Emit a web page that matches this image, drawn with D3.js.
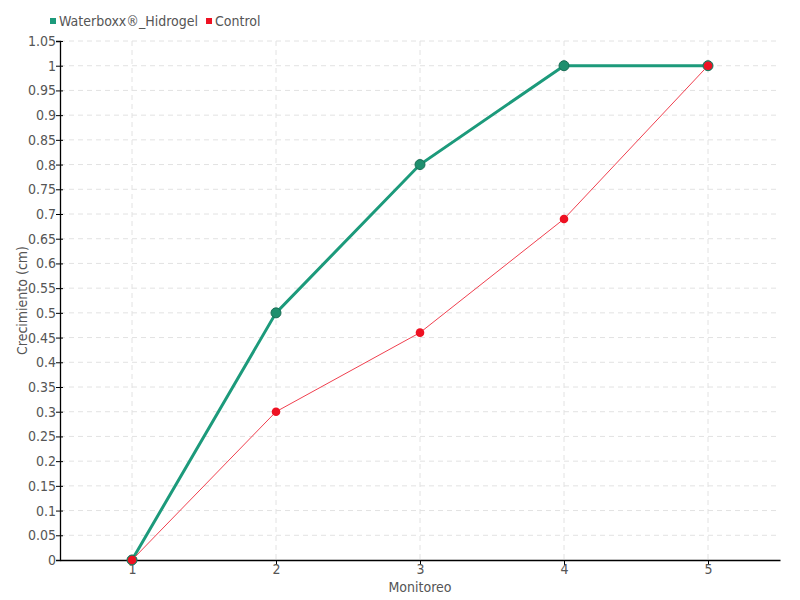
<!DOCTYPE html>
<html><head><meta charset="utf-8">
<script src="https://cdn.jsdelivr.net/npm/d3@7"></script>
<style>
body{margin:0;background:#fff;}
text{font-family:"DejaVu Sans Condensed","Roboto",sans-serif;}
</style></head>
<body><svg id="c" width="800" height="600"></svg>
<script>
const monitoreo = [1, 2, 3, 4, 5];
const waterboxx = [0, 0.5, 0.8, 1, 1];
const control = [0, 0.3, 0.46, 0.69, 1];
const yTicks = [0,0.05,0.1,0.15,0.2,0.25,0.3,0.35,0.4,0.45,0.5,0.55,0.6,0.65,0.7,0.75,0.8,0.85,0.9,0.95,1,1.05];
const seriesNames = ["Waterboxx®_Hidrogel", "Control"];

const svg = d3.select("#c");
const L = 60, R = 780, T = 41, B = 560;
const FS = 14;
const x = d3.scaleLinear().domain([0.5, 5.5]).range([L, R]);
const y = d3.scaleLinear().domain([0, 1.05]).range([B, T]);

// grid
svg.append("g").selectAll("line").data(yTicks.filter(d=>d>0)).join("line")
  .attr("x1", L).attr("x2", R).attr("y1", d=>y(d)).attr("y2", d=>y(d))
  .attr("stroke", "#e2e2e2").attr("stroke-dasharray", "5,4");
svg.append("g").selectAll("line").data(monitoreo).join("line")
  .attr("x1", d=>x(d)).attr("x2", d=>x(d)).attr("y1", T).attr("y2", B)
  .attr("stroke", "#e2e2e2").attr("stroke-dasharray", "5,4");

// axes
const ya = svg.append("g").attr("transform", `translate(${L},0)`)
  .call(d3.axisLeft(y).tickValues(yTicks).tickSize(4).tickFormat(d => String(+d.toFixed(2))));
ya.select(".domain").attr("stroke", "#000").attr("stroke-width", 1.3);
ya.selectAll(".tick line").attr("stroke", "#000").attr("x2", -4).attr("x1", 3);
ya.selectAll("text").attr("fill", "#555").attr("font-size", FS).attr("x", -4)
  .style("font-family", '"DejaVu Sans Condensed",sans-serif');

const xa = svg.append("g").attr("transform", `translate(0,${B})`)
  .call(d3.axisBottom(x).tickValues(monitoreo).tickSize(5).tickFormat(d3.format("d")).tickSizeOuter(0));
xa.select(".domain").attr("stroke", "#000").attr("stroke-width", 1.3);
xa.selectAll(".tick line").attr("stroke", "#000");
xa.selectAll("text").attr("fill", "#555").attr("font-size", FS).attr("y", 6).attr("dy", "0.6em")
  .style("font-family", '"DejaVu Sans Condensed",sans-serif');

// axis titles
svg.append("text").attr("x", (L+R)/2).attr("y", 592).attr("text-anchor", "middle")
  .attr("fill", "#555").attr("font-size", FS).text("Monitoreo");
svg.append("text").attr("transform", `translate(27,${(T+B)/2}) rotate(-90)`)
  .attr("text-anchor", "middle").attr("fill", "#555").attr("font-size", FS).text("Crecimiento (cm)");

const line = d3.line().x((d,i)=>x(monitoreo[i])).y(d=>y(d));

// green series
svg.append("path").datum(waterboxx).attr("d", line).attr("fill","none")
  .attr("stroke", "#1c9a7b").attr("stroke-width", 3);
svg.append("g").selectAll("circle").data(waterboxx).join("circle")
  .attr("cx",(d,i)=>x(monitoreo[i])).attr("cy", d=>y(d)).attr("r", 5)
  .attr("fill", "#1f8f6e").attr("stroke", "#1a6e55").attr("stroke-width", 1);

// red series
svg.append("path").datum(control).attr("d", line).attr("fill","none")
  .attr("stroke", "#f0404f").attr("stroke-width", 1);
svg.append("g").selectAll("circle").data(control).join("circle")
  .attr("cx",(d,i)=>x(monitoreo[i])).attr("cy", d=>y(d)).attr("r", 4.3)
  .attr("fill", "#ee1122");

// legend
const colors = ["#1c9a7b", "#ee1122"];
let lx = 50;
seriesNames.forEach((n,i)=>{
  svg.append("rect").attr("x", lx).attr("y", 18).attr("width", 6).attr("height", 6).attr("fill", colors[i]);
  const t = svg.append("text").attr("x", lx+9).attr("y", 26).attr("fill", "#555").attr("font-size", FS).text(n);
  lx += 9 + t.node().getComputedTextLength() + 8;
});
</script></body></html>
